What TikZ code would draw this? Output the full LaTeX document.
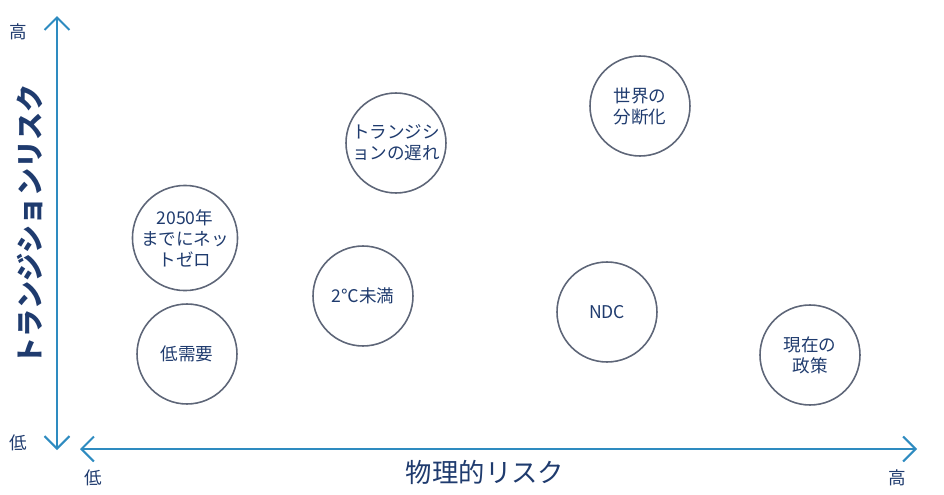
\documentclass[tikz,border=0pt]{standalone}
\usepackage{fontspec}
\setmainfont{Noto Sans CJK JP}
\usetikzlibrary{arrows.meta}
\definecolor{axisblue}{HTML}{2E8BC0}
\definecolor{textblue}{HTML}{1F3B6E}
\definecolor{ringgrey}{HTML}{5E6678}

\begin{document}
\begin{tikzpicture}[x=0.02cm,y=-0.02cm,
  scen/.style={circle,draw=ringgrey,line width=0.9pt,minimum size=2cm,inner sep=0pt,
    align=center,text=textblue,font=\fontsize{10}{12}\selectfont},
  axis/.style={draw=axisblue,line width=1.2pt,{Straight Barb[length=2.5mm]}-{Straight Barb[length=2.5mm]}},
  tick/.style={text=textblue,font=\fontsize{10}{12}\selectfont}]
\useasboundingbox (0,0) rectangle (944,494);
% axes
\coordinate (ytop) at (57,16);
\coordinate (ybot) at (57,450);
\coordinate (xleft) at (80,449);
\coordinate (xright) at (917,449);
\draw[axis] (ybot) -- (ytop);
\draw[axis] (xleft) -- (xright);
\node[tick] (yhigh) at (18,32) {高};
\node[tick] (ylow) at (18,443) {低};
\node[tick] (xlow) at (93,478) {低};
\node[tick] (xhigh) at (897,478) {高};
\node[text=textblue,font=\fontsize{16}{18}\selectfont\bfseries,rotate=90] (ylabel) at (30,225) {トランジションリスク};
\node[text=textblue,font=\fontsize{15}{18}\selectfont] (xlabel) at (485,472) {物理的リスク};
% scenarios
\node[scen] (netzero) at (185,238) {2050年\\までにネッ\\トゼロ};
\node[scen] (lowdemand) at (187,354) {低需要};
\node[scen] (delayed) at (396,143) {トランジシ\\ョンの遅れ};
\node[scen] (below2) at (363,296) {2℃未満};
\node[scen] (fragmented) at (640,106) {世界の\\分断化};
\node[scen] (ndc) at (607,312) {NDC};
\node[scen] (current) at (810,355) {現在の\\政策};
\end{tikzpicture}
\end{document}
